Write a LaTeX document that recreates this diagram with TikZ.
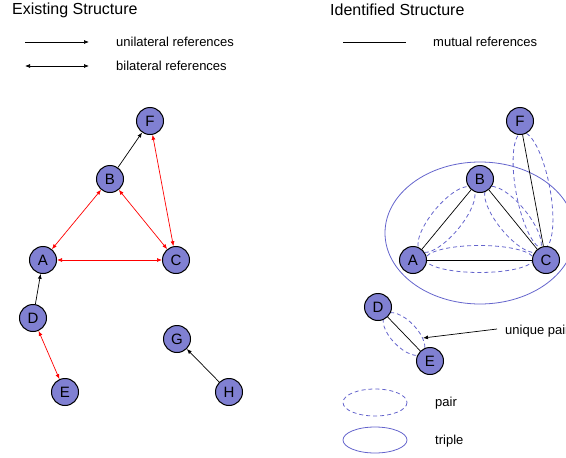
\documentclass[tikz,border=0pt]{standalone}
\usepackage{fontspec}
\setmainfont{Liberation Sans}
\usetikzlibrary{arrows.meta}
\definecolor{nodeblue}{RGB}{128,128,210}
\definecolor{ellblue}{RGB}{100,100,204}
\tikzset{
  vtx/.style={circle,draw=black,line width=1pt,fill=nodeblue,minimum size=27pt,inner sep=0pt,font=\fontsize{15}{15}\selectfont},
  lbl/.style={anchor=west,inner sep=0pt,font=\fontsize{13}{13}\selectfont},
  ttl/.style={anchor=west,inner sep=0pt,font=\fontsize{16}{16}\selectfont},
  uni/.style={draw=black,line width=0.7pt,-{Latex[length=5pt,width=4pt]}},
  bi/.style={draw=black,line width=0.7pt,{Latex[length=5pt,width=4pt]}-{Latex[length=5pt,width=4pt]}},
  redbi/.style={draw=red,line width=0.7pt,{Latex[length=5pt,width=4pt]}-{Latex[length=5pt,width=4pt]}},
  mutual/.style={draw=black,line width=0.7pt},
  pairell/.style={draw=ellblue,line width=0.8pt,dash pattern=on 4pt off 3pt},
  tripell/.style={draw=ellblue,line width=0.8pt},
}
\begin{document}
\begin{tikzpicture}[x=1pt,y=-1pt]
\useasboundingbox (0,0) rectangle (566,458);
\clip (0,0) rectangle (566,458);
% titles
\node[ttl] (t1) at (12,10) {Existing Structure};
\node[ttl] (t2) at (330,10) {Identified Structure};
% legend
\coordinate (u1) at (25,42); \coordinate (u2) at (89,42);
\draw[uni] (u1) -- (u2);
\node[lbl] (ut) at (116,42) {unilateral references};
\coordinate (b1) at (25,66); \coordinate (b2) at (89,66);
\draw[bi] (b1) -- (b2);
\node[lbl] (bt) at (116,66) {bilateral references};
\coordinate (m1) at (343,42); \coordinate (m2) at (406,42);
\draw[mutual] (m1) -- (m2);
\node[lbl] (mt) at (433,42) {mutual references};
% left graph
\node[vtx] (lF) at (150,121) {F};
\node[vtx] (lB) at (110,179) {B};
\node[vtx] (lA) at (43,260) {A};
\node[vtx] (lC) at (176,260) {C};
\node[vtx] (lD) at (33,318) {D};
\node[vtx] (lE) at (65,392) {E};
\node[vtx] (lG) at (177,339) {G};
\node[vtx] (lH) at (229,392) {H};
\draw[uni] (lB) -- (lF);
\draw[redbi] (lA) -- (lB);
\draw[redbi] (lB) -- (lC);
\draw[redbi] (lA) -- (lC);
\draw[redbi] (lF) -- (lC);
\draw[uni] (lD) -- (lA);
\draw[redbi] (lD) -- (lE);
\draw[uni] (lH) -- (lG);
% right graph
\draw[tripell] (480,233) ellipse [x radius=95, y radius=71];
\draw[pairell, rotate around={50.4:(446.5,219.5)}] (446.5,219.5) ellipse [x radius=41, y radius=15];
\draw[pairell, rotate around={-50.8:(513,219.5)}] (513,219.5) ellipse [x radius=41, y radius=15];
\draw[pairell] (479.5,259) ellipse [x radius=54, y radius=13.5];
\draw[pairell, rotate around={-79.4:(533,190.5)}] (533,190.5) ellipse [x radius=59, y radius=17];
\draw[pairell, rotate around={-46.1:(404,334)}] (404,334) ellipse [x radius=27, y radius=13];
\node[vtx] (rF) at (520,121) {F};
\node[vtx] (rB) at (480,179) {B};
\node[vtx] (rA) at (413,260) {A};
\node[vtx] (rC) at (546,260) {C};
\node[vtx] (rD) at (378,307) {D};
\node[vtx] (rE) at (430,361) {E};
\draw[mutual] (rA) -- (rB);
\draw[mutual] (rB) -- (rC);
\draw[mutual] (rA) -- (rC);
\draw[mutual] (rF) -- (rC);
\draw[mutual] (rD) -- (rE);
\node[lbl] (up) at (505,331) {unique pair};
\coordinate (uptip) at (423,338);
\draw[uni] (up.west) ++(-8,-2) coordinate (upstart) -- (uptip);
% ellipse legend
\draw[pairell] (375,402.5) ellipse [x radius=32, y radius=13.5];
\node[lbl] (pt) at (435,403) {pair};
\draw[tripell] (375,440) ellipse [x radius=32, y radius=13];
\node[lbl] (tt) at (435,441) {triple};
\end{tikzpicture}
\end{document}
